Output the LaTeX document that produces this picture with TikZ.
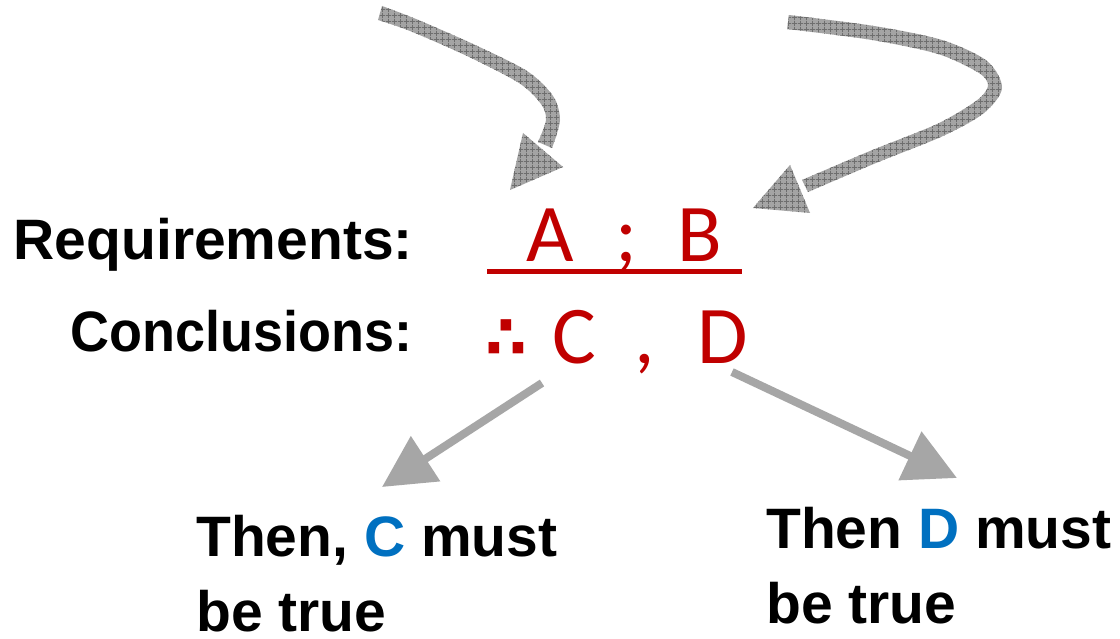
\documentclass[tikz,border=0pt]{standalone}
\usepackage{fontspec}
\setmainfont{Liberation Sans}
\newfontfamily\calib{Carlito}
\newfontfamily\djv{DejaVu Sans}
\usetikzlibrary{arrows.meta,patterns}
\definecolor{dred}{HTML}{C00000}
\definecolor{dblue}{HTML}{0070C0}
\definecolor{agray}{HTML}{A6A6A6}
\definecolor{hgray}{HTML}{A4A4A4}
\definecolor{hdark}{HTML}{6E6E6E}
\pgfdeclarepatternformonly{hatchgrid}{\pgfpointorigin}{\pgfqpoint{5.5pt}{5.5pt}}{\pgfqpoint{5.5pt}{5.5pt}}{%
  \pgfsetlinewidth{0.7pt}%
  \pgfpathmoveto{\pgfqpoint{0pt}{2.75pt}}\pgfpathlineto{\pgfqpoint{5.5pt}{2.75pt}}%
  \pgfpathmoveto{\pgfqpoint{2.75pt}{0pt}}\pgfpathlineto{\pgfqpoint{2.75pt}{5.5pt}}%
  \pgfusepath{stroke}}
\tikzset{
  lbl/.style={font=\bfseries\fontsize{57}{75}\selectfont, inner sep=0pt, align=left},
  red/.style={font=\calib\fontsize{82}{90}\selectfont, text=dred, inner sep=0pt},
  hatched/.style={fill=hgray, postaction={pattern=hatchgrid, pattern color=hdark}},
  outarrow/.style={draw=agray, line width=8pt, -{Triangle[length=52pt,width=52pt]}},
}
\begin{document}
\begin{tikzpicture}[x=1pt,y=-1pt]
\useasboundingbox[fill=white] (0,0) rectangle (1120,639);
% labels
\node[lbl, anchor=base east] (req) at (413,260) {Requirements:};
\node[lbl, anchor=base east, xscale=0.947] (con) at (413,352) {Conclusions:};
% premises
\node[red, anchor=base] (A) at (550,262) {A};
\node[red, anchor=base] (semi) at (626,262) {;};
\node[red, anchor=base] (B) at (700,262) {B};
\coordinate (ul) at (487,272);
\coordinate (ur) at (742,272);
\draw[dred, line width=5pt] (ul) -- (ur);
% conclusions
\node[font=\djv\bfseries\fontsize{60}{60}\selectfont, text=dred, inner sep=0pt] (therefore) at (506,339) {∴};
\node[red, anchor=base] (C) at (574,363) {C};
\node[red, anchor=base] (comma) at (645,363) {,};
\node[red, anchor=base] (D) at (723,363) {D};
% results
\node[lbl, anchor=north west] (resC) at (196,515) {Then, \textcolor{dblue}{C} must\\be true};
\node[lbl, anchor=north west] (resD) at (766,507) {Then \textcolor{dblue}{D} must\\be true};
% bottom arrows
\coordinate (cs) at (542,383);
\coordinate (ct) at (382,487);
\coordinate (ds) at (732,372);
\coordinate (dt) at (957,478);
\draw[outarrow] (cs) -- (ct);
\draw[outarrow] (ds) -- (dt);
% top hatched arrows
\path[hatched] plot[smooth] coordinates {(382,6) (416,19) (473,44) (527,71) (553,96) (560,120) (552,148)}
  -- plot[smooth] coordinates {(538,142) (546,120) (541,104) (519,83) (467,56) (410,31) (378,20)} -- cycle;
\path[hatched] (523,133) -- (563,167) -- (510,190) -- cycle;
\path[hatched] plot[smooth] coordinates {(789,15) (874,26) (942,40) (987,61) (1002,88) (984,113) (943,136) (876,163) (808,192)}
  -- plot[smooth] coordinates {(802,180) (870,151) (937,124) (976,101) (988,86) (979,73) (938,54) (872,40) (787,29)} -- cycle;
\path[hatched] (790,165) -- (810,213) -- (753,208) -- cycle;
\end{tikzpicture}
\end{document}
